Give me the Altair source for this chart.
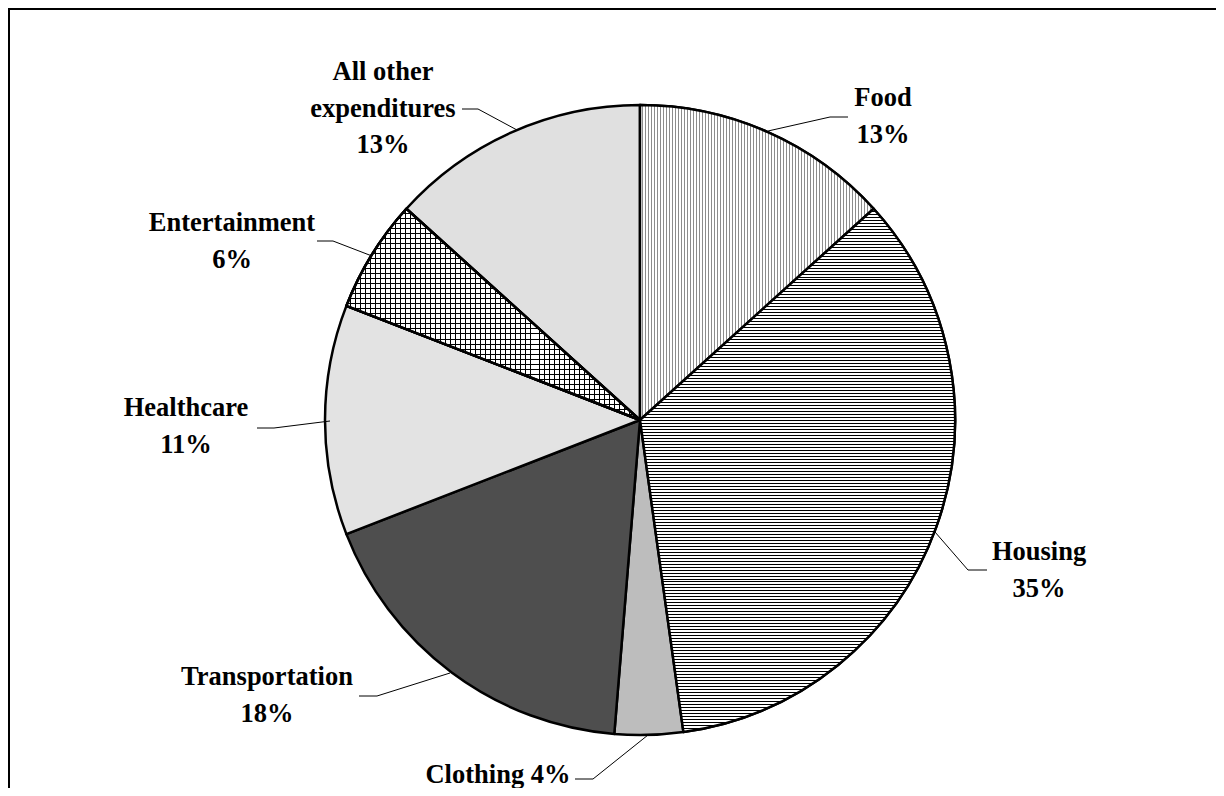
import altair as alt
import pandas as pd

# ---------------- data ----------------
categories = ["Food", "Housing", "Clothing", "Transportation",
              "Healthcare", "Entertainment", "All other expenditures"]
shares = [13.3, 34.5, 3.5, 17.8, 11.8, 5.8, 13.3]
pct_labels = ["13%", "35%", "4%", "18%", "11%", "6%", "13%"]

TOTAL = sum(shares)

# ---------------- styles / layout ----------------
W, H = 1208, 780
CX, CY, R = 632, 412, 315
FONT = "Liberation Serif"
FS = 26.5
LH = 36.5

base_fills = ["#ffffff", "#ffffff", "#bdbdbd", "#4e4e4e",
              "#e3e3e3", "#ffffff", "#e0e0e0"]

label_wrap = {"All other expenditures": ["All other", "expenditures"]}
inline_pct = {"Clothing"}
# label anchor: centre x, centre y of first line (chart px)
label_anchor = {
    "Food": (875, 90),
    "Housing": (1031, 544),
    "Clothing": (490, 767),
    "Transportation": (259, 669),
    "Healthcare": (178, 400),
    "Entertainment": (224, 215),
    "All other expenditures": (375, 64),
}
# leader lines (chart px)
leader_pts = {
    "Food": [(840, 109), (822, 109), (760, 123)],
    "Housing": [(979, 562), (960, 562), (927, 524)],
    "Clothing": [(567, 771), (585, 771), (640, 727)],
    "Transportation": [(351, 688), (369, 688), (442, 665)],
    "Healthcare": [(249, 420), (266, 420), (322, 413)],
    "Entertainment": [(309, 233), (325, 233), (364, 248)],
    "All other expenditures": [(454, 101), (470, 101), (509, 122)],
}


def stripe_gradient(n, on_color, off_color, horizontal_lines, on_frac):
    stops = []
    for k in range(n):
        a = round(k / n, 6)
        m = round((k + 1 - on_frac) / n, 6)
        b = round((k + 1) / n, 6)
        stops += [
            {"offset": a, "color": off_color},
            {"offset": m, "color": off_color},
            {"offset": m, "color": on_color},
            {"offset": b, "color": on_color},
        ]
    if horizontal_lines:
        x1, y1, x2, y2 = 0, 0, 0, 1
    else:
        x1, y1, x2, y2 = 0, 0, 1, 0
    return {"gradient": "linear", "x1": x1, "y1": y1, "x2": x2, "y2": y2,
            "stops": stops}


housing_fill = stripe_gradient(175, "#000000", "#ffffff", True, 1 / 3)
food_fill = stripe_gradient(78, "#8c8c8c", "#ffffff", False, 1 / 3)
ent_h_fill = stripe_gradient(42, "#000000", "#ffffff", True, 1 / 5)
ent_v_fill = stripe_gradient(59, "#000000", "rgba(255,255,255,0)", False, 1 / 5)

# ---------------- tables ----------------
df = pd.DataFrame({
    "idx": list(range(len(categories))),
    "cat": categories,
    "share": shares,
})

rows = []
for cat, pct in zip(categories, pct_labels):
    if cat in inline_pct:
        lines = [cat + " " + pct]
    else:
        lines = label_wrap.get(cat, [cat]) + [pct]
    x0, y0 = label_anchor[cat]
    for k, t in enumerate(lines):
        rows.append({"cat": cat, "text": t, "x": x0, "y": y0 + k * LH})
labels_df = pd.DataFrame(rows)

lrows = []
for cat, pts in leader_pts.items():
    for k, (x, y) in enumerate(pts):
        lrows.append({"cat": cat, "seq": k, "x": x, "y": y})
leaders_df = pd.DataFrame(lrows)

# ---------------- chart ----------------
base = (
    alt.Chart(df)
    .transform_window(end="sum(share)", sort=[alt.SortField("idx")])
    .transform_calculate(start="datum.end - datum.share")
)

theta = alt.Theta("start:Q", stack=None, scale=alt.Scale(domain=[0, TOTAL]))
theta2 = alt.Theta2("end:Q")
arc_style = dict(outerRadius=R, stroke="black", strokeWidth=2.5, strokeJoin="round")

pie = base.mark_arc(**arc_style).encode(
    theta=theta, theta2=theta2,
    x=alt.value(CX), y=alt.value(CY),
    fill=alt.Fill("cat:N", scale=alt.Scale(domain=categories, range=base_fills), legend=None),
)


def overlay(cat, grad):
    return base.transform_filter(alt.datum.cat == cat).mark_arc(fill=grad, **arc_style).encode(
        theta=theta, theta2=theta2, x=alt.value(CX), y=alt.value(CY)
    )


housing = overlay("Housing", housing_fill)
food = overlay("Food", food_fill)
ent_h = overlay("Entertainment", ent_h_fill)
ent_v = overlay("Entertainment", ent_v_fill)

leaders = alt.Chart(leaders_df).mark_line(color="black", strokeWidth=1).encode(
    x=alt.X("x:Q", scale=None),
    y=alt.Y("y:Q", scale=None),
    detail="cat:N",
    order="seq:Q",
)

texts = alt.Chart(labels_df).mark_text(
    font=FONT, fontSize=FS, fontWeight="bold", color="black",
    align="center", baseline="middle",
).encode(
    x=alt.X("x:Q", scale=None),
    y=alt.Y("y:Q", scale=None),
    text="text:N",
)

border = alt.Chart(pd.DataFrame({"a": [0]})).mark_rect(
    fill="transparent", stroke="black", strokeWidth=2
).encode(
    x=alt.value(1), y=alt.value(1), x2=alt.value(W + 200), y2=alt.value(H + 200)
)

chart = (
    alt.layer(pie, food, housing, ent_h, ent_v, leaders, texts, border)
    .properties(width=W, height=H, padding=0,
                autosize=alt.AutoSizeParams(type="none"),
                background="white")
    .configure_view(strokeWidth=0)
)

chart.save("out.html", embed_options={"renderer": "svg", "actions": False})
